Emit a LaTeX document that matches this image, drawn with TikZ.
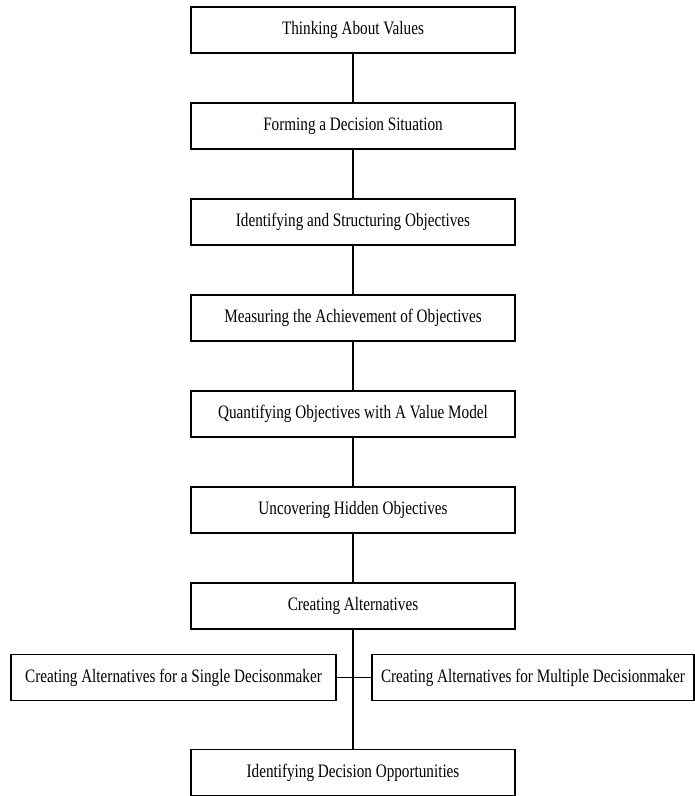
\documentclass[tikz,border=0pt]{standalone}
\usepackage{fontspec}
\setmainfont[FakeStretch=0.8]{Liberation Serif}
\begin{document}
\begin{tikzpicture}[x=1pt,y=-1pt,
  box/.style={draw=black, line width=1.6pt, fill=white, inner sep=0pt,
    minimum width=324pt, minimum height=46pt,
    font=\fontsize{19}{22}\selectfont},
  link/.style={draw=black, line width=1.6pt}]
\useasboundingbox (0,0) rectangle (695,796);
\node[box] (v)  at (353,30)  {Thinking About Values};
\node[box] (f)  at (353,126) {Forming a Decision Situation};
\node[box] (i)  at (353,222) {Identifying and Structuring Objectives};
\node[box] (m)  at (353,318) {Measuring the Achievement of Objectives};
\node[box] (q)  at (353,414) {Quantifying Objectives with A Value Model};
\node[box] (u)  at (353,510) {Uncovering Hidden Objectives};
\node[box] (ca) at (353,606) {Creating Alternatives};
\node[box, minimum width=325pt] (s) at (173.5,677.5) {Creating Alternatives for a Single Decisonmaker};
\node[box, minimum width=322pt] (mu) at (533,677.5) {Creating Alternatives for Multiple Decisionmaker};
\node[box] (o)  at (353,772.5) {Identifying Decision Opportunities};
\draw[link] (v) -- (f);
\draw[link] (f) -- (i);
\draw[link] (i) -- (m);
\draw[link] (m) -- (q);
\draw[link] (q) -- (u);
\draw[link] (u) -- (ca);
\draw[link] (ca) -- (o);
\draw[link] (s) -- (mu);
\end{tikzpicture}
\end{document}
